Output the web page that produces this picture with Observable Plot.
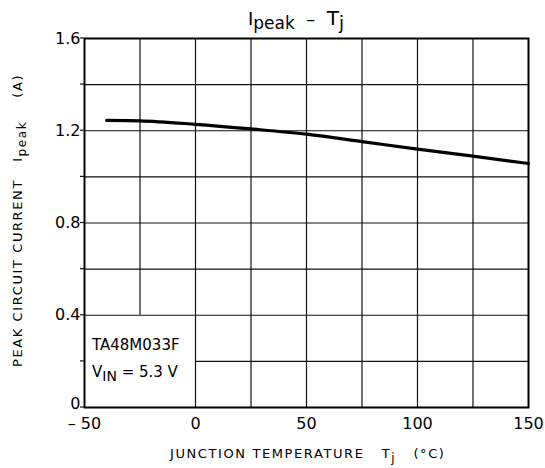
<!DOCTYPE html>
<html>
<head>
<meta charset="utf-8">
<script src="https://cdn.jsdelivr.net/npm/d3@7"></script>
<script src="https://cdn.jsdelivr.net/npm/@observablehq/plot@0.6"></script>
<style>
  html, body { margin: 0; padding: 0; background: #fff; }
</style>
</head>
<body>
<div id="chart"></div>
<script>
// Data
const temps = [-40, -25, 0, 25, 50, 75, 100, 125, 150];
const ipeak = [1.245, 1.243, 1.228, 1.208, 1.185, 1.153, 1.12, 1.09, 1.058];
const xTicks = [-50, 0, 50, 100, 150];
const yTicks = [0.4, 0.8, 1.2, 1.6];
const yZeroTick = [0];
const xGrid = [-25, 0, 25, 50, 75, 100, 125];
const yGrid = [0.2, 0.4, 0.6, 0.8, 1.0, 1.2, 1.4];
const yMinorTicks = [0.2, 0.6, 1.0, 1.4];
const noteLines = ["TA48M033F", "VIN = 5.3 V"];
const noteBox = {xMax: 0, yMax: 0.4};

const curve = temps.map((t, i) => ({t, i: ipeak[i]}));
const fmtX = d => d < 0 ? "\u2013 " + Math.abs(d) : String(d);
const fmtY = d => d === 0 ? "0" : d.toFixed(1);
const font = "DejaVu Sans, Noto Sans, sans-serif";

const plot = Plot.plot({
  width: 545,
  height: 468,
  marginLeft: 84,
  marginRight: 17,
  marginTop: 38,
  marginBottom: 61,
  style: {fontFamily: font, fontSize: "16px", color: "#000", background: "#fff"},
  x: {type: "linear", domain: [-50, 150], label: null},
  y: {type: "linear", domain: [0, 1.6], label: null},
  marks: [
    // vertical grid lines (skip the note box)
    Plot.ruleX(xGrid, {x: d => d, y1: d => d < noteBox.xMax ? noteBox.yMax : 0, y2: () => 1.6, stroke: "#111", strokeWidth: 1.2}),
    // horizontal grid lines (skip the note box)
    Plot.ruleY(yGrid, {y: d => d, x1: d => d < noteBox.yMax ? noteBox.xMax : -50, x2: () => 150, stroke: "#111", strokeWidth: 1.2}),
    Plot.frame({stroke: "#000", strokeWidth: 2}),
    Plot.line(curve, {x: "t", y: "i", stroke: "#000", strokeWidth: 3.2, curve: "monotone-x"}),
    Plot.axisX({ticks: xTicks, tickSize: 0, tickPadding: 10, fontSize: 16, tickFormat: fmtX}),
    Plot.axisY({ticks: yTicks, tickSize: 0, tickPadding: 4, fontSize: 16, tickFormat: fmtY}),
    Plot.axisY({ticks: yZeroTick, tickSize: 0, tickPadding: 4, fontSize: 16, tickFormat: fmtY, dy: -4})
  ]
});

document.getElementById("chart").appendChild(plot);

const svg = d3.select(plot);
const ys = plot.scale("y"), xs = plot.scale("x");
// short tick marks left of the frame
svg.append("g").selectAll("line")
  .data(yZeroTick.concat(yTicks, yMinorTicks))
  .join("line")
  .attr("x1", xs.apply(-50) - 4).attr("x2", xs.apply(-50))
  .attr("y1", d => ys.apply(d)).attr("y2", d => ys.apply(d))
  .attr("stroke", "#111").attr("stroke-width", 1.2);

// Title
const title = svg.append("text")
  .attr("x", 248).attr("y", 25)
  .attr("text-anchor", "start")
  .attr("font-family", font).attr("font-size", 18).attr("fill", "#000")
  .attr("xml:space", "preserve");
title.append("tspan").text("I");
title.append("tspan").attr("dy", 4).attr("font-size", 17).text("peak");
title.append("tspan").attr("dy", -4).text("  \u2013  ");
title.append("tspan").attr("font-size", 20).text("T");
title.append("tspan").attr("dy", 4).attr("font-size", 18).text("j");

// X label
const xl = svg.append("text")
  .attr("x", 170).attr("y", 458)
  .attr("text-anchor", "start")
  .attr("font-family", font).attr("font-size", 13).attr("fill", "#000")
  .attr("letter-spacing", 1.6)
  .attr("xml:space", "preserve");
xl.append("tspan").text("JUNCTION TEMPERATURE   T");
xl.append("tspan").attr("dy", 4).attr("font-size", 12).text("j");
xl.append("tspan").attr("dy", -4).text("   (\u00B0C)");

// Y label
const yl = svg.append("text")
  .attr("transform", "translate(22,367) rotate(-90)")
  .attr("text-anchor", "start")
  .attr("font-family", font).attr("font-size", 13).attr("fill", "#000")
  .attr("letter-spacing", 1.6)
  .attr("xml:space", "preserve");
yl.append("tspan").text("PEAK CIRCUIT CURRENT   I");
yl.append("tspan").attr("dy", 4).attr("font-size", 12).text("peak");
yl.append("tspan").attr("dy", -4).text("    (A)");

// Note box text
svg.append("text")
  .attr("x", 92).attr("y", 350)
  .attr("text-anchor", "start")
  .attr("font-family", font).attr("font-size", 15).attr("fill", "#000")
  .text(noteLines[0]);
const n2 = svg.append("text")
  .attr("x", 92).attr("y", 377)
  .attr("text-anchor", "start")
  .attr("font-family", font).attr("font-size", 15).attr("fill", "#000")
  .attr("xml:space", "preserve");
n2.append("tspan").text("V");
n2.append("tspan").attr("dy", 4).attr("font-size", 14).text("IN");
n2.append("tspan").attr("dy", -4).text(" = 5.3 V");
</script>
</body>
</html>
